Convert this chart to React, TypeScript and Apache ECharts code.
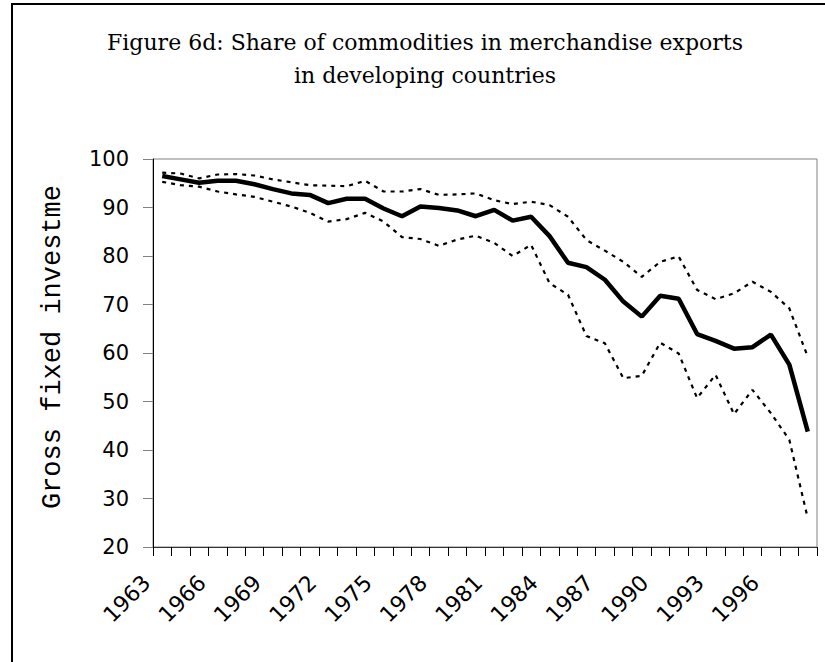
import React, { useEffect, useRef } from "react";
import * as echarts from "echarts";

const years = [
  "1963", "1964", "1965", "1966", "1967", "1968", "1969", "1970", "1971",
  "1972", "1973", "1974", "1975", "1976", "1977", "1978", "1979", "1980",
  "1981", "1982", "1983", "1984", "1985", "1986", "1987", "1988", "1989",
  "1990", "1991", "1992", "1993", "1994", "1995", "1996", "1997", "1998",
];

const mainShare = [
  96.5, 95.8, 95.1, 95.5, 95.5, 94.8, 93.8, 92.9, 92.6, 90.9, 91.8, 91.8,
  89.8, 88.2, 90.2, 89.9, 89.4, 88.2, 89.5, 87.3, 88.1, 84.1, 78.6, 77.7,
  75.1, 70.6, 67.5, 71.8, 71.2, 63.9, 62.5, 60.9, 61.2, 63.8, 57.6, 43.8,
];

const upperShare = [
  97.2, 97.0, 96.0, 96.8, 96.9, 96.6, 95.8, 95.2, 94.6, 94.5, 94.4, 95.5,
  93.3, 93.3, 93.8, 92.6, 92.7, 92.9, 91.5, 90.7, 91.2, 90.5, 88.1, 83.3,
  81.1, 78.8, 75.7, 78.8, 79.9, 73.0, 71.1, 72.3, 74.7, 72.6, 69.2, 59.2,
];

const lowerShare = [
  95.3, 94.6, 94.3, 93.3, 92.7, 92.2, 91.2, 90.2, 88.9, 87.1, 87.6, 88.9,
  87.1, 83.9, 83.5, 82.1, 83.4, 84.2, 82.7, 80.0, 82.3, 74.4, 72.0, 63.5,
  62.0, 54.8, 55.3, 62.1, 59.9, 50.7, 55.5, 47.4, 52.4, 47.6, 42.1, 25.9,
];

const titleLine1 = "Figure 6d: Share of commodities in merchandise exports";
const titleLine2 = "in developing countries";
const yAxisName = "Gross fixed investme";

export default function App() {
  const ref = useRef<HTMLDivElement>(null);

  useEffect(() => {
    if (!ref.current) return;
    const chart = echarts.init(ref.current, null, { renderer: "svg" });
    const dotted = {
      color: "#000",
      width: 2.2,
      type: [4, 5] as any,
    };
    chart.setOption({
      animation: false,
      backgroundColor: "#fff",
      title: {
        text: titleLine1 + "\n" + titleLine2,
        left: 425,
        top: 26,
        padding: 0,
        textAlign: "center",
        textStyle: {
          fontFamily: "DejaVu Serif",
          fontSize: 22,
          fontWeight: "normal",
          color: "#000",
          lineHeight: 33,
        },
      },
      graphic: [
        {
          type: "rect",
          silent: true,
          shape: { x: 12, y: 4, width: 900, height: 800 },
          style: { fill: "none", stroke: "#000", lineWidth: 2 },
        },
      ],
      grid: {
        left: 153,
        right: 8,
        top: 159,
        bottom: 115,
        show: true,
        borderColor: "#808080",
        borderWidth: 1,
        backgroundColor: "#fff",
      },
      xAxis: {
        type: "category",
        data: years,
        boundaryGap: true,
        axisLine: { lineStyle: { color: "#333", width: 1 } },
        axisTick: {
          show: true,
          interval: 0,
          length: 9,
          lineStyle: { color: "#000" },
        },
        axisLabel: {
          interval: 2,
          rotate: 45,
          margin: 32,
          verticalAlign: "bottom",
          padding: [0, 11, 0, 0],
          fontFamily: "DejaVu Sans",
          fontSize: 22,
          color: "#000",
        },
        splitLine: { show: false },
      },
      yAxis: {
        type: "value",
        min: 20,
        max: 100,
        interval: 10,
        name: yAxisName,
        nameLocation: "middle",
        nameGap: 87,
        nameTextStyle: {
          fontFamily: "Liberation Mono",
          fontSize: 27,
          color: "#000",
          padding: [0, 0, 0, 12],
        },
        axisLine: { show: true, lineStyle: { color: "#000", width: 1 } },
        axisTick: {
          show: true,
          length: 10,
          lineStyle: { color: "#808080" },
        },
        axisLabel: {
          margin: 24,
          fontFamily: "DejaVu Sans",
          fontSize: 21,
          color: "#000",
        },
        splitLine: { show: false },
      },
      series: [
        {
          name: "Upper",
          type: "line",
          data: upperShare,
          symbol: "none",
          lineStyle: dotted,
          z: 2,
        },
        {
          name: "Lower",
          type: "line",
          data: lowerShare,
          symbol: "none",
          lineStyle: dotted,
          z: 2,
        },
        {
          name: "Share",
          type: "line",
          data: mainShare,
          symbol: "none",
          lineStyle: { color: "#000", width: 4.5, type: "solid" },
          z: 3,
        },
      ],
    });
    return () => chart.dispose();
  }, []);

  return (
    <div
      ref={ref}
      style={{ position: "fixed", left: 0, top: 0, width: 825, height: 662 }}
    />
  );
}
